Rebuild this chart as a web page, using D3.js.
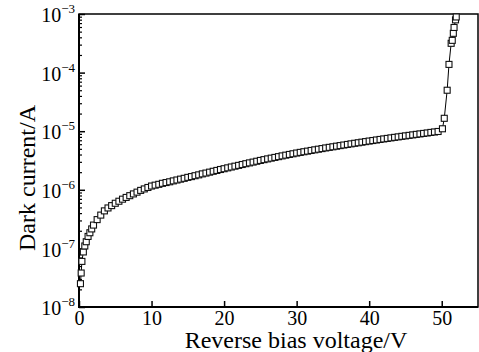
<!DOCTYPE html>
<html>
<head>
<meta charset="utf-8">
<script src="https://cdn.jsdelivr.net/npm/d3@7"></script>
<style>
  body { margin: 0; background: #fff; }
</style>
</head>
<body>
<div id="chart"></div>
<script>
// reverse bias sweep (V) and measured dark current (A)
const voltages = [
  0.2, 0.3, 0.4, 0.6, 0.8, 1, 1.25, 1.5, 1.75, 2, 2.5, 3, 3.5, 4, 4.5, 5, 5.5, 6, 6.5, 7, 7.5, 8, 8.5, 9, 9.5,
  10, 10.5, 11, 11.5, 12, 12.5, 13, 13.5, 14, 14.5, 15, 15.5, 16, 16.5, 17, 17.5, 18, 18.5, 19, 19.5,
  20, 20.5, 21, 21.5, 22, 22.5, 23, 23.5, 24, 24.5, 25, 25.5, 26, 26.5, 27, 27.5, 28, 28.5, 29, 29.5,
  30, 30.5, 31, 31.5, 32, 32.5, 33, 33.5, 34, 34.5, 35, 35.5, 36, 36.5, 37, 37.5, 38, 38.5, 39, 39.5,
  40, 40.5, 41, 41.5, 42, 42.5, 43, 43.5, 44, 44.5, 45, 45.5, 46, 46.5, 47, 47.5, 48, 48.5, 49, 49.5,
  50.1, 50.35, 50.75, 51.0, 51.3, 51.45, 51.6, 51.7, 51.9, 52.0
];
const darkCurrent = [
  2.5e-8, 3.8e-8, 6.0e-8, 8.7e-8, 1.1e-7, 1.3e-7, 1.6e-7, 1.85e-7, 2.15e-7, 2.5e-7, 3.1e-7, 3.7e-7,
  4.37e-7, 4.90e-7, 5.37e-7, 5.89e-7, 6.38e-7, 6.92e-7, 7.41e-7, 7.94e-7, 8.51e-7, 9.12e-7, 9.77e-7, 1.035e-6, 1.096e-6,
  1.16e-6, 1.20e-6, 1.24e-6, 1.29e-6, 1.33e-6, 1.37e-6, 1.42e-6, 1.47e-6, 1.52e-6, 1.57e-6,
  1.63e-6, 1.68e-6, 1.74e-6, 1.80e-6, 1.87e-6, 1.93e-6, 2.00e-6, 2.07e-6, 2.14e-6, 2.22e-6,
  2.29e-6, 2.37e-6, 2.45e-6, 2.53e-6, 2.61e-6, 2.70e-6, 2.79e-6, 2.88e-6, 2.97e-6, 3.07e-6,
  3.17e-6, 3.27e-6, 3.37e-6, 3.47e-6, 3.57e-6, 3.68e-6, 3.79e-6, 3.90e-6, 4.01e-6, 4.12e-6,
  4.24e-6, 4.35e-6, 4.46e-6, 4.57e-6, 4.69e-6, 4.81e-6, 4.93e-6, 5.05e-6, 5.18e-6, 5.30e-6,
  5.42e-6, 5.55e-6, 5.68e-6, 5.81e-6, 5.94e-6, 6.08e-6, 6.22e-6, 6.35e-6, 6.50e-6, 6.64e-6,
  6.79e-6, 6.93e-6, 7.08e-6, 7.23e-6, 7.38e-6, 7.53e-6, 7.69e-6, 7.85e-6, 8.00e-6, 8.17e-6,
  8.32e-6, 8.49e-6, 8.65e-6, 8.83e-6, 8.99e-6, 9.16e-6, 9.33e-6, 9.53e-6, 9.70e-6, 9.89e-6,
  1.10e-5, 1.66e-5, 5.0e-5, 1.38e-4, 3.16e-4, 3.55e-4, 4.68e-4, 5.89e-4, 7.94e-4, 8.9e-4
];
const xTicks = [0, 10, 20, 30, 40, 50];
const yExponents = [-8, -7, -6, -5, -4, -3];

const FONT = '"Liberation Serif", "Times New Roman", serif';
const W = 479, H = 352;
const margin = {left: 79, top: 14, right: 1, bottom: 45};
const width = W - margin.left - margin.right;
const height = H - margin.top - margin.bottom;

const data = voltages.map((v, i) => ({v: v, i: darkCurrent[i]}));

const svg = d3.select('#chart')
    .append('svg')
    .attr('width', W)
    .attr('height', H);

const g = svg.append('g')
    .attr('transform', `translate(${margin.left}, ${margin.top})`);

const x = d3.scaleLinear().domain([0, 55]).range([0, width]);
const y = d3.scaleLog().domain([1e-8, 1e-3]).range([height, 0]);

// minor ticks on the log axis
const minor = [];
yExponents.slice(0, -1).forEach(e => {
  for (let k = 2; k <= 9; k++) minor.push(k * Math.pow(10, e));
});

g.append('g')
    .call(d3.axisLeft(y).tickValues(minor).tickSize(-3).tickFormat(''))
    .call(a => a.select('.domain').remove())
    .selectAll('line').attr('stroke-width', 1.2);

const yAxis = g.append('g')
    .attr('font-family', FONT)
    .call(d3.axisLeft(y)
      .tickValues(yExponents.map(e => Math.pow(10, e)))
      .tickSize(-6)
      .tickPadding(4)
      .tickFormat(''));
yAxis.select('.domain').remove();
yAxis.selectAll('line').attr('stroke-width', 1.5);
yAxis.selectAll('.tick text')
    .attr('font-family', FONT)
    .attr('font-size', 20)
    .attr('dy', '0.38em')
    .each(function(d) {
      const t = d3.select(this);
      t.append('tspan').text('10');
      t.append('tspan')
        .attr('dy', -9)
        .attr('font-size', 13)
        .text('\u2212' + Math.abs(Math.round(Math.log10(d))));
    });

const xAxis = g.append('g')
    .attr('transform', `translate(0, ${height})`)
    .attr('font-family', FONT)
    .call(d3.axisBottom(x).tickValues(xTicks).tickSize(-6).tickPadding(4));
xAxis.select('.domain').remove();
xAxis.selectAll('line').attr('stroke-width', 1.5);
xAxis.selectAll('text')
    .attr('font-family', FONT)
    .attr('font-size', 20);

// frame
g.append('rect')
    .attr('width', width)
    .attr('height', height)
    .attr('fill', 'none')
    .attr('stroke', '#000')
    .attr('stroke-width', 1.5);
g.append('path')
    .attr('d', `M0,0V${height}H${width}`)
    .attr('fill', 'none')
    .attr('stroke', '#000')
    .attr('stroke-width', 2);

const line = d3.line().x(d => x(d.v)).y(d => y(d.i));

g.append('path')
    .datum(data)
    .attr('d', line)
    .attr('fill', 'none')
    .attr('stroke', '#000')
    .attr('stroke-width', 1);

const s = 6;
g.selectAll('rect.pt')
    .data(data)
    .enter()
    .append('rect')
    .attr('class', 'pt')
    .attr('x', d => x(d.v) - s / 2)
    .attr('y', d => y(d.i) - s / 2)
    .attr('width', s)
    .attr('height', s)
    .attr('fill', '#fff')
    .attr('stroke', '#111')
    .attr('stroke-width', 1.1);

svg.append('text')
    .attr('x', 296)
    .attr('y', 348)
    .attr('text-anchor', 'middle')
    .attr('font-family', FONT)
    .attr('font-size', 24)
    .text('Reverse bias voltage/V');

svg.append('text')
    .attr('transform', 'translate(35, 178) rotate(-90)')
    .attr('text-anchor', 'middle')
    .attr('font-family', FONT)
    .attr('font-size', 24)
    .text('Dark current/A');
</script>
</body>
</html>
